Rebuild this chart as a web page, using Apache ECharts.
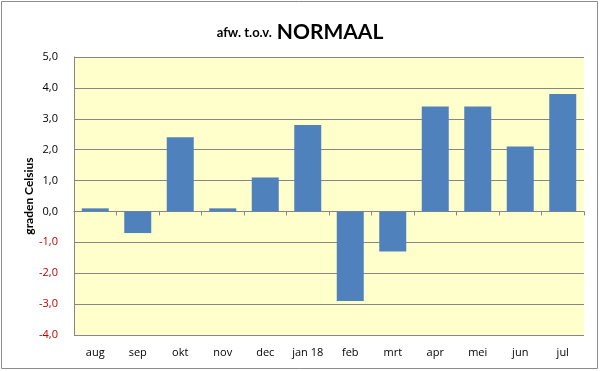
<!DOCTYPE html>
<html><head><meta charset="utf-8">
<script src="https://cdn.jsdelivr.net/npm/echarts@6/dist/echarts.min.js"></script>
<style>html,body{margin:0;padding:0;background:#fff}#c{width:600px;height:371px}</style>
</head><body><div id="c"></div>
<script>
const categories = ['aug','sep','okt','nov','dec','jan 18','feb','mrt','apr','mei','jun','jul'];
const values = [0.1,-0.7,2.4,0.1,1.1,2.8,-2.9,-1.3,3.4,3.4,2.1,3.8];
const yMin = -4, yMax = 5, yStep = 1;
const titleSmall = 'afw. t.o.v.';
const titleBig = 'NORMAAL';
const yName = 'graden Celsius';

const chart = echarts.init(document.getElementById('c'), null, {renderer:'canvas'});
chart.setOption({
  animation:false,
  backgroundColor:'#fff',
  graphic:[{type:'rect',shape:{x:1.5,y:1.5,width:596,height:367},style:{fill:'none',stroke:'#8c8c8c',lineWidth:1},z:-1}],
  title:{
    text:'{s|'+titleSmall+'} {b|'+titleBig+'}',
    left:'center', top:17,
    textStyle:{rich:{
      s:{fontFamily:'Lato',fontSize:13,fontWeight:'bold',color:'#000'},
      b:{fontFamily:'Lato',fontSize:21,fontWeight:'bold',color:'#000'}
    }}
  },
  grid:{left:74,right:16,top:57,bottom:36,show:true,backgroundColor:'#FFFFCC',borderWidth:0},
  xAxis:{
    type:'category', data:categories,
    axisLine:{show:true,lineStyle:{color:'#868686'}},
    axisTick:{show:true,length:4,lineStyle:{color:'#868686'}},
    axisLabel:{color:'#000',fontFamily:'Open Sans',fontSize:11,margin:12}
  },
  yAxis:{
    type:'value', min:yMin, max:yMax, interval:yStep,
    name:yName, nameLocation:'middle', nameGap:39, nameRotate:90, nameMoveOverlap:false,
    nameTextStyle:{fontFamily:'Lato',fontWeight:'bold',fontSize:12,color:'#000'},
    axisLine:{show:true,lineStyle:{color:'#868686'}},
    axisTick:{show:false},
    splitLine:{lineStyle:{color:'#868686',width:1}},
    axisLabel:{
      fontFamily:'Open Sans',fontSize:11,margin:16,
      formatter:v=>v.toFixed(1).replace('.',','),
      color:v=>(parseFloat(v)<0?'#C00000':'#000')
    }
  },
  series:[{
    type:'bar', data:values, barWidth:27,
    itemStyle:{color:'#4F81BD'}
  }]
});
</script></body></html>
